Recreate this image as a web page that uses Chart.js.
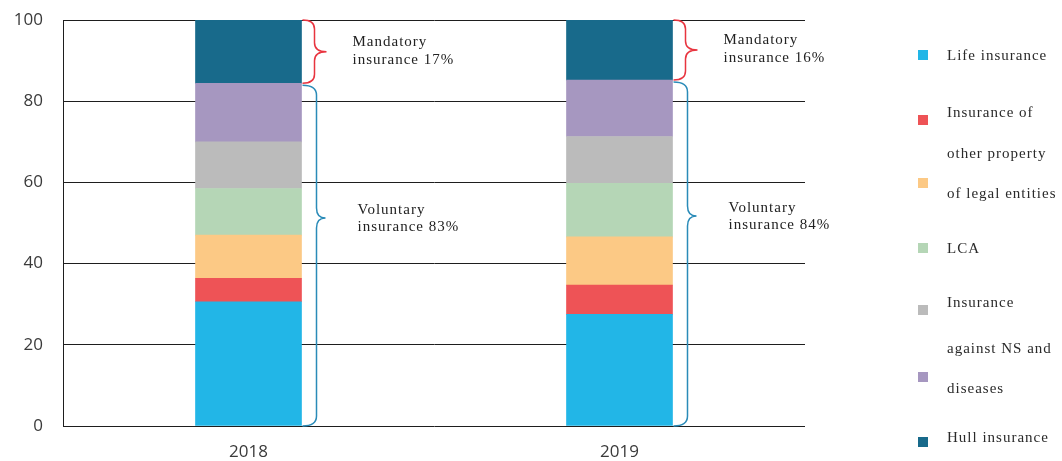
<!DOCTYPE html>
<html>
<head>
<meta charset="utf-8">
<script src="https://cdn.jsdelivr.net/npm/chart.js@4.4.1/dist/chart.umd.min.js"></script>
<style>
  html, body { margin: 0; padding: 0; background: #fff; }
  #wrap { position: relative; width: 1062px; height: 461px; overflow: hidden; }
  #chart { position: absolute; left: 0; top: 0; }
  .lg-box { position: absolute; width: 10px; height: 10px; }
  .lg-txt { position: absolute; font-family: "Liberation Serif", "DejaVu Serif", serif; font-size: 15px; letter-spacing: 1px; color: #2a2a2a; white-space: nowrap; line-height: 16px; }
</style>
</head>
<body>
<div id="wrap">
  <canvas id="chart" width="1062" height="461"></canvas>
</div>
<script>
// ---- data ----
const categories = ['2018', '2019'];
const lifeInsurance = [30.6, 27.5];
const otherPropertyInsurance = [5.8, 7.2];
const legalEntitiesInsurance = [10.6, 11.9];
const lcaInsurance = [11.5, 13.2];
const nsInsurance = [11.5, 11.5];
const diseasesInsurance = [14.4, 13.9];
const hullInsurance = [15.6, 14.8];
const mandatoryShare = [17, 16];
const voluntaryShare = [83, 84];
const yTicks = [0, 20, 40, 60, 80, 100];

const seriesNames = ['Life insurance', 'Insurance of other property', 'of legal entities', 'LCA', 'Insurance against NS', 'diseases', 'Hull insurance'];
const seriesColors = ['#22b6e7', '#ee5356', '#fcc985', '#b5d6b6', '#bbbbbb', '#a697c0', '#186a8b'];
const seriesData = [lifeInsurance, otherPropertyInsurance, legalEntitiesInsurance, lcaInsurance, nsInsurance, diseasesInsurance, hullInsurance];

// ---- legend (html) ----
const legendBoxes = [55, 120, 183, 248, 310, 377, 442];
const legendLines = [
  ['Life insurance', 55], ['Insurance of', 112], ['other property', 153], ['of legal entities', 193],
  ['LCA', 248], ['Insurance', 302], ['against NS and', 348], ['diseases', 388], ['Hull insurance', 437]
];
const wrap = document.getElementById('wrap');
legendBoxes.forEach((cy, i) => {
  const d = document.createElement('div');
  d.className = 'lg-box';
  d.style.left = '918px';
  d.style.top = (cy - 5) + 'px';
  d.style.background = seriesColors[i];
  wrap.appendChild(d);
});
legendLines.forEach(([t, cy]) => {
  const d = document.createElement('div');
  d.className = 'lg-txt';
  d.style.left = '947px';
  d.style.top = (cy - 8) + 'px';
  d.textContent = t;
  wrap.appendChild(d);
});

// ---- braces plugin ----
function brace(ctx, x0, spine, tip, yTop, yBot, yTip, r) {
  ctx.beginPath();
  ctx.moveTo(x0, yTop);
  ctx.quadraticCurveTo(spine, yTop, spine, yTop + r);
  ctx.lineTo(spine, yTip - r);
  ctx.quadraticCurveTo(spine, yTip, tip, yTip);
  ctx.quadraticCurveTo(spine, yTip, spine, yTip + r);
  ctx.lineTo(spine, yBot - r);
  ctx.quadraticCurveTo(spine, yBot, x0, yBot);
  ctx.stroke();
}
const bracePlugin = {
  id: 'braces',
  afterDatasetsDraw(chart) {
    const ctx = chart.ctx;
    const yScale = chart.scales.y;
    const hullMeta = chart.getDatasetMeta(seriesData.length - 1);
    ctx.save();
    ctx.lineWidth = 1.5;
    ctx.font = '15px "Liberation Serif", "DejaVu Serif", serif';
    if ('letterSpacing' in ctx) ctx.letterSpacing = '1px';
    ctx.textBaseline = 'middle';
    ctx.textAlign = 'left';
    categories.forEach((c, i) => {
      const bar = hullMeta.data[i];
      const right = bar.x + bar.width / 2 + 1;
      const yTop = bar.y;
      const yMid = bar.base;
      const yBot = yScale.getPixelForValue(0);
      // mandatory
      ctx.strokeStyle = '#e8343f';
      const mTip = (yTop + yMid) / 2;
      brace(ctx, right, right + 12, right + 24, yTop, yMid, mTip, 9);
      ctx.fillStyle = '#222';
      ctx.fillText('Mandatory', right + 50, mTip - 10);
      ctx.fillText('insurance ' + mandatoryShare[i] + '%', right + 50, mTip + 8);
      // voluntary
      ctx.strokeStyle = '#2a8bb8';
      const vTip = yMid + 1 + (yBot - yMid) * 0.39;
      brace(ctx, right, right + 14, right + 23, yMid + 2, yBot, vTip, 10);
      ctx.fillText('Voluntary', right + 55, vTip - 8);
      ctx.fillText('insurance ' + voluntaryShare[i] + '%', right + 55, vTip + 9);
    });
    ctx.restore();
  }
};

new Chart(document.getElementById('chart'), {
  type: 'bar',
  data: {
    labels: categories,
    datasets: seriesData.map((d, i) => ({
      label: seriesNames[i],
      data: d,
      backgroundColor: seriesColors[i],
      borderWidth: 0,
      barThickness: 106
    }))
  },
  options: {
    responsive: false,
    devicePixelRatio: 1,
    animation: false,
    layout: { padding: { left: 0, right: 257, top: 20, bottom: 0 } },
    plugins: { legend: { display: false }, tooltip: { enabled: false } },
    scales: {
      x: {
        stacked: true,
        grid: { display: false, drawTicks: false },
        border: { display: false },
        ticks: { color: '#3a3a3a', font: { family: '"Open Sans", sans-serif', size: 17 }, padding: 16 },
        afterFit(axis) { axis.height = 35; }
      },
      y: {
        stacked: true,
        min: 0, max: 100,
        afterBuildTicks(axis) { axis.ticks = yTicks.map(v => ({ value: v })); },
        grid: { color: '#1e1e1e', lineWidth: 1, drawTicks: false },
        border: { display: true, color: '#1e1e1e', width: 1 },
        ticks: { color: '#3a3a3a', font: { family: '"Open Sans", sans-serif', size: 17 }, padding: 20 },
        afterFit(axis) { axis.width = 63; axis.paddingTop = 0; axis.paddingBottom = 0; }
      }
    }
  },
  plugins: [bracePlugin]
});
</script>
</body>
</html>
